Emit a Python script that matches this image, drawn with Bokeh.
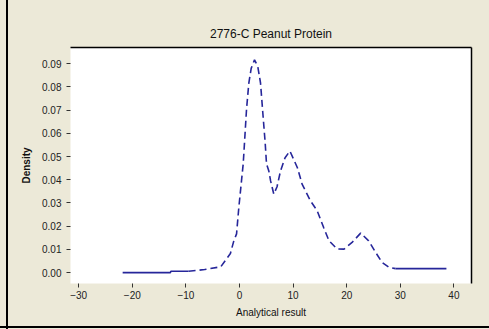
from bokeh.plotting import figure
from bokeh.models import Range1d, LinearAxis, FixedTicker, NumeralTickFormatter
from bokeh.embed import file_html
from bokeh.resources import INLINE

# Kernel density estimate of the analytical results
result = [-21.8, -12.9, -12.8, -9.5, -6.5, -3.5, -1.7, -1.06, -0.55, -0.13,
          0.5, 0.69, 0.93, 1.31, 1.74, 2.18, 2.8, 3.41, 3.92, 4.35, 4.79,
          5.04, 5.47, 5.8, 6.4, 7.0, 7.65, 8.5, 9.4, 10.8, 11.7, 13.25, 14.5,
          15.7, 16.7, 18.2, 19.5, 21.0, 22.6, 24.1, 25.4, 26.6, 27.9, 29.1, 38.6]
density = [0.0, 0.0, 0.0006, 0.0006, 0.0013, 0.0025, 0.0082, 0.0137, 0.0167, 0.028,
           0.0425, 0.0468, 0.0559, 0.0704, 0.0817, 0.088, 0.0917, 0.0888, 0.0817, 0.0688, 0.0559,
           0.0468, 0.0438, 0.0395, 0.0338, 0.037, 0.0438, 0.0495, 0.0524, 0.0452, 0.038, 0.0309, 0.0266,
           0.0194, 0.0137, 0.0102, 0.0101, 0.013, 0.017, 0.0137, 0.0087, 0.0044, 0.0023, 0.0017, 0.0017]

x_ticks = [-30, -20, -10, 0, 10, 20, 30, 40]
y_ticks = [0.0, 0.01, 0.02, 0.03, 0.04, 0.05, 0.06, 0.07, 0.08, 0.09]

tail_lo = -9.5   # flat left tail drawn solid up to here
tail_hi = 29.1   # flat right tail drawn solid from here

FONT = "Liberation Sans"
LINE = "#26269a"

p = figure(width=489, height=329, output_backend="svg", toolbar_location=None,
           x_range=Range1d(-31.53, 43.28), y_range=Range1d(-0.0047, 0.0970),
           min_border_left=70, min_border_right=18, min_border_top=47, min_border_bottom=46)

p.title.text = "2776-C Peanut Protein"
p.title.text_font = FONT
p.title.text_font_size = "12px"
p.title.text_font_style = "normal"
p.title.align = "center"
p.title.offset = -18
p.title.standoff = 14
p.title.text_color = "#111111"

p.border_fill_alpha = 0
p.background_fill_color = "white"
p.outline_line_color = None
p.grid.visible = False
p.styles = {
    "background": "linear-gradient(to right, transparent 6px, #000 6px, #000 8px, transparent 8px), "
                  "linear-gradient(to top, transparent 1px, #000 1px, #000 3px, transparent 3px), #ECE9D8"
}

for ax in (p.xaxis[0], p.yaxis[0]):
    ax.axis_line_color = None
    ax.major_tick_line_color = "#333333"
    ax.major_tick_in = 0
    ax.major_tick_out = 4
    ax.minor_tick_line_color = None
    ax.major_label_text_font = FONT
    ax.major_label_text_font_size = "10px"
    ax.major_label_text_color = "#222222"
    ax.axis_label_text_font = FONT
    ax.axis_label_text_font_size = "10px"
    ax.axis_label_text_font_style = "normal"
    ax.axis_label_text_color = "#111111"

p.xaxis.ticker = FixedTicker(ticks=x_ticks)
p.xaxis.axis_label = "Analytical result"
p.xaxis.major_label_standoff = 3
p.xaxis.axis_label_standoff = 5

p.yaxis.ticker = FixedTicker(ticks=y_ticks)
p.yaxis.formatter = NumeralTickFormatter(format="0.00")
p.yaxis.axis_label = "Density"
p.yaxis.axis_label_text_font_style = "bold"
p.yaxis.axis_label_standoff = 7

# top and right frame edges
for side in ("above", "right"):
    edge = LinearAxis(ticker=FixedTicker(ticks=[]), axis_line_color="black", axis_line_width=1.5,
                      major_tick_line_color=None, minor_tick_line_color=None)
    p.add_layout(edge, side)

left = [(x, y) for x, y in zip(result, density) if x <= tail_lo]
mid = [(x, y) for x, y in zip(result, density) if tail_lo <= x <= tail_hi]
right = [(x, y) for x, y in zip(result, density) if x >= tail_hi]

for part in (left, right):
    p.line([a for a, _ in part], [b for _, b in part], line_color=LINE, line_width=1.6)
p.line([a for a, _ in mid], [b for _, b in mid], line_color=LINE, line_width=1.6, line_dash="7 4")

open("out.html", "w").write(file_html(p, INLINE))
